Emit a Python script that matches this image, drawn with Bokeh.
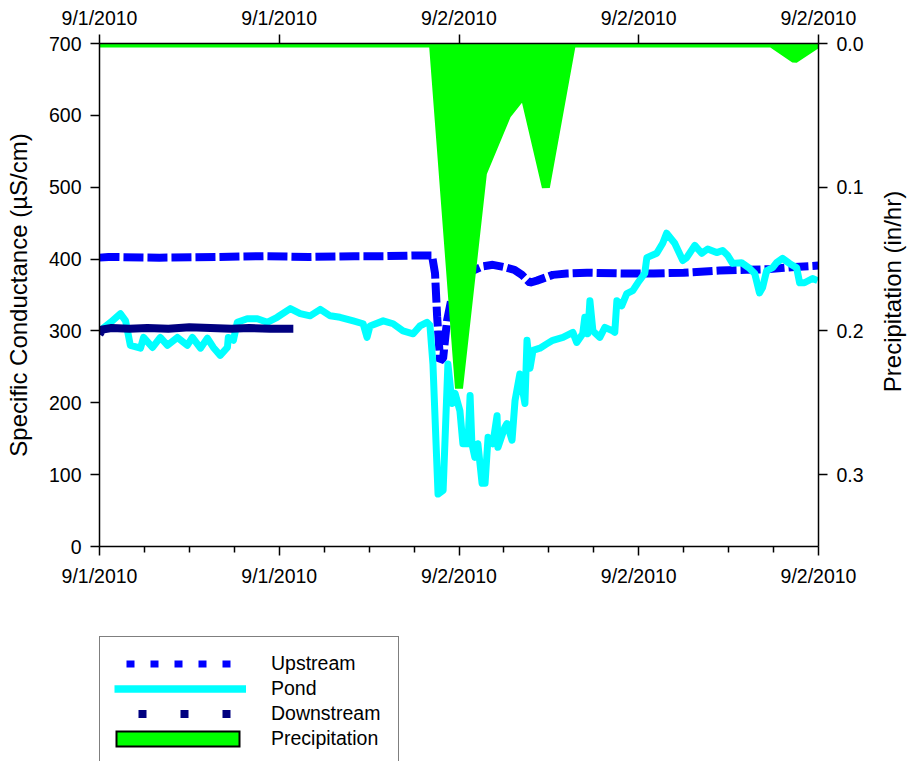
import math
from datetime import datetime, timedelta

from bokeh.plotting import figure
from bokeh.layouts import column
from bokeh.models import (Range1d, LinearAxis, FixedTicker, NumeralTickFormatter,
                          Legend, LegendItem, Label, ColumnDataSource)
from bokeh.embed import file_html
from bokeh.resources import INLINE

# Time axis origin; all series times are hours after this instant
START = datetime(2010, 9, 1, 12, 0)

# Upstream specific conductance (uS/cm)
upstream_hours = [0.0, 0.3, 2.0, 4.0, 5.5, 7.0, 8.5, 9.5, 10.5, 11.1, 11.2, 11.27,
                  11.37, 11.47, 11.6, 11.75, 11.95, 12.2, 12.47, 12.8, 13.13, 13.5,
                  13.85, 14.1, 14.37, 14.6, 15.13, 15.6, 16.27, 17.4, 18.5, 19.5,
                  20.7, 21.6, 22.37, 23.2, 24.0]
upstream_sc = [402, 403, 402, 403, 404, 403, 404, 404, 405, 405, 380, 320,
               258, 262, 314, 345, 368, 380, 384, 390, 392, 389,
               385, 378, 367, 370, 378, 380, 381, 380, 380, 381,
               384, 385, 386, 389, 391]

# Pond specific conductance (uS/cm)
pond_hours = [0.0, 0.37, 0.70, 0.87, 1.03, 1.37, 1.47, 1.77, 2.03, 2.27, 2.60, 2.93,
              3.10, 3.37, 3.60, 3.80, 4.03, 4.27, 4.30, 4.47, 4.60, 4.93, 5.27, 5.60,
              5.93, 6.37, 6.70, 7.03, 7.37, 7.70, 8.03, 8.47, 8.80, 8.93, 9.03, 9.47,
              9.80, 10.13, 10.47, 10.70, 10.93, 11.03, 11.13, 11.30, 11.47, 11.63,
              11.77, 11.87, 12.03, 12.13, 12.30, 12.37, 12.43, 12.53, 12.63, 12.77,
              12.87, 12.97, 13.13, 13.27, 13.30, 13.53, 13.60, 13.77, 13.87, 14.03,
              14.20, 14.27, 14.37, 14.47, 14.70, 14.93, 15.13, 15.47, 15.80, 15.93,
              16.13, 16.20, 16.30, 16.37, 16.47, 16.70, 16.87, 17.13, 17.20, 17.27,
              17.43, 17.60, 17.80, 17.97, 18.20, 18.27, 18.60, 18.80, 18.93, 19.20,
              19.47, 19.60, 19.87, 20.10, 20.30, 20.60, 20.80, 20.97, 21.13, 21.43,
              21.70, 21.87, 22.03, 22.13, 22.27, 22.47, 22.60, 22.80, 23.03, 23.27,
              23.37, 23.53, 23.80, 23.97]
pond_sc = [300, 312, 324, 314, 280, 276, 291, 277, 291, 280, 291, 280,
           291, 276, 290, 277, 266, 277, 291, 287, 312, 317, 317, 312,
           319, 331, 324, 321, 330, 321, 319, 314, 310, 291, 307, 314,
           310, 300, 296, 307, 312, 308, 254, 73, 78, 254,
           199, 213, 189, 143, 143, 210, 143, 124, 143, 88,
           88, 152, 143, 182, 138, 166, 171, 148, 203, 240,
           199, 287, 248, 273, 276, 282, 287, 291, 298, 284,
           296, 319, 296, 342, 300, 291, 305, 300, 298, 342,
           335, 352, 356, 367, 380, 402, 408, 422, 436, 422,
           398, 402, 419, 408, 414, 409, 412, 405, 394, 395,
           387, 380, 353, 360, 384, 388, 395, 401, 394, 388,
           367, 367, 373, 370]

# Downstream specific conductance (uS/cm)
downstream_hours = [0.0, 0.1, 0.4, 1.0, 1.6, 2.3, 3.0, 3.7, 4.4, 5.0, 5.7, 6.47]
downstream_sc = [295, 302, 304, 303, 304, 303, 305, 304, 303, 304, 303, 303]

# Precipitation (in/hr)
precip_hours = [0.0, 11.13, 12.0, 12.8, 13.6, 14.17, 14.9, 15.77, 22.43, 23.2, 24.0]
precip_in_hr = [0.0, 0.0, 0.24, 0.09, 0.05, 0.035, 0.10, 0.0, 0.0, 0.011, 0.0]

# Axis ticks
major_hours = [0, 6, 12, 18, 24]
minor_hours = [h + k * 1.5 for h in major_hours[:-1] for k in (1, 2, 3)]
sc_ticks = [0, 100, 200, 300, 400, 500, 600, 700]
precip_ticks = [0.0, 0.1, 0.2, 0.3]


def date_label(hours):
    d = START + timedelta(hours=hours)
    return f"{d.month}/{d.day}/{d.year}"


date_labels = {h: date_label(h) for h in major_hours}

FONT = "Liberation Sans"
TICK_SIZE = "19.5px"
TITLE_SIZE = "24px"
UP_COLOR, POND_COLOR, DOWN_COLOR, RAIN_COLOR = "#0000FF", "#00FFFF", "#000080", "#00FF00"

p = figure(width=909, height=600,
           x_range=Range1d(0, 24), y_range=Range1d(0, 700),
           output_backend="svg", toolbar_location=None,
           min_border_left=99, min_border_right=91,
           min_border_top=43, min_border_bottom=54,
           outline_line_color=None, background_fill_color="white",
           border_fill_color="white")
p.extra_y_ranges = {"precip": Range1d(start=0.35, end=0.0)}
p.xgrid.visible = False
p.ygrid.visible = False


def style_axis(ax):
    ax.axis_line_color = "black"
    ax.axis_line_width = 1.5
    ax.major_tick_line_color = "black"
    ax.major_tick_line_width = 1.5
    ax.minor_tick_line_color = "black"
    ax.minor_tick_line_width = 1.5
    ax.major_tick_in = 0
    ax.major_tick_out = 9
    ax.minor_tick_in = 0
    ax.minor_tick_out = 6
    ax.major_label_text_font = FONT
    ax.major_label_text_font_size = TICK_SIZE
    ax.major_label_text_color = "black"
    ax.major_label_standoff = 9
    ax.axis_label_text_font = FONT
    ax.axis_label_text_font_size = TITLE_SIZE
    ax.axis_label_text_font_style = "normal"
    ax.axis_label_text_color = "black"


# bottom time axis
xb = p.xaxis[0]
xb.ticker = FixedTicker(ticks=major_hours, minor_ticks=minor_hours)
xb.major_label_overrides = date_labels
style_axis(xb)
xb.major_label_standoff = 9

# left conductance axis
yl = p.yaxis[0]
yl.ticker = FixedTicker(ticks=sc_ticks, minor_ticks=[])
yl.axis_label = "Specific Conductance (\u00b5S/cm)"
style_axis(yl)
yl.axis_label_standoff = 14

# top time axis
xt = LinearAxis(ticker=FixedTicker(ticks=major_hours, minor_ticks=[]),
                major_label_overrides=date_labels)
style_axis(xt)
xt.major_label_standoff = 6
p.add_layout(xt, "above")

# right precipitation axis (reversed)
yr = LinearAxis(y_range_name="precip",
                ticker=FixedTicker(ticks=precip_ticks, minor_ticks=[]),
                formatter=NumeralTickFormatter(format="0.0"))
style_axis(yr)
p.add_layout(yr, "right")

# right-hand title, reading bottom to top, in its own side panel
p.add_layout(Label(x=26, y=255, x_units="screen", y_units="screen",
                   text="Precipitation (in/hr)", angle=90, angle_units="deg",
                   text_align="center", text_baseline="middle",
                   text_font=FONT, text_font_size=TITLE_SIZE, text_color="black"),
             "right")

# data series
p.line(upstream_hours, upstream_sc, line_color=UP_COLOR, line_width=8,
       line_dash="20 4")
p.line(pond_hours, pond_sc, line_color=POND_COLOR, line_width=7,
       line_join="round")
p.line(downstream_hours, downstream_sc, line_color=DOWN_COLOR, line_width=8,
       line_join="round")

src_pr = ColumnDataSource(dict(h=precip_hours, v=precip_in_hr,
                               z=[0.0] * len(precip_hours)))
p.varea(x="h", y1="z", y2="v", source=src_pr, y_range_name="precip",
        fill_color=RAIN_COLOR)
p.line("h", "v", source=src_pr, y_range_name="precip", line_color=RAIN_COLOR,
       line_width=8, line_join="bevel")

# legend strip under the chart
leg_fig = figure(width=909, height=161, x_range=Range1d(0, 1), y_range=Range1d(0, 1),
                 output_backend="svg", toolbar_location=None,
                 x_axis_location=None, y_axis_location=None, min_border=0,
                 outline_line_color=None, background_fill_color="white",
                 border_fill_color="white")
leg_fig.xgrid.visible = False
leg_fig.ygrid.visible = False

NO_DATA = [math.nan]
leg_up = leg_fig.line(NO_DATA, NO_DATA, line_color=UP_COLOR, line_width=7,
                      line_dash="8 16", line_dash_offset=12)
leg_pond = leg_fig.line(NO_DATA, NO_DATA, line_color=POND_COLOR, line_width=7.5)
leg_down = leg_fig.line(NO_DATA, NO_DATA, line_color=DOWN_COLOR, line_width=8,
                        line_dash="8 34", line_dash_offset=18)
leg_pr_edge = leg_fig.line(NO_DATA, NO_DATA, line_color="black", line_width=17,
                           line_dash="125 1000", line_dash_offset=1124)
leg_pr_fill = leg_fig.line(NO_DATA, NO_DATA, line_color=RAIN_COLOR, line_width=13,
                           line_dash="121 1000", line_dash_offset=1118)

legend = Legend(items=[
    LegendItem(label="Upstream", renderers=[leg_up]),
    LegendItem(label="Pond", renderers=[leg_pond]),
    LegendItem(label="Downstream", renderers=[leg_down]),
    LegendItem(label="Precipitation", renderers=[leg_pr_edge, leg_pr_fill]),
], location=(0, -5), orientation="vertical", margin=0, padding=14,
    spacing=0, glyph_width=132, glyph_height=25, label_height=25,
    label_width=113, label_standoff=25,
    label_text_font=FONT, label_text_font_size=TICK_SIZE,
    label_text_color="black", label_text_baseline="middle",
    border_line_color="black", border_line_width=1.5,
    background_fill_color="white", background_fill_alpha=1.0)
leg_fig.add_layout(legend)

root = column(p, leg_fig, spacing=0)
open("out.html", "w").write(file_html(root, INLINE))
